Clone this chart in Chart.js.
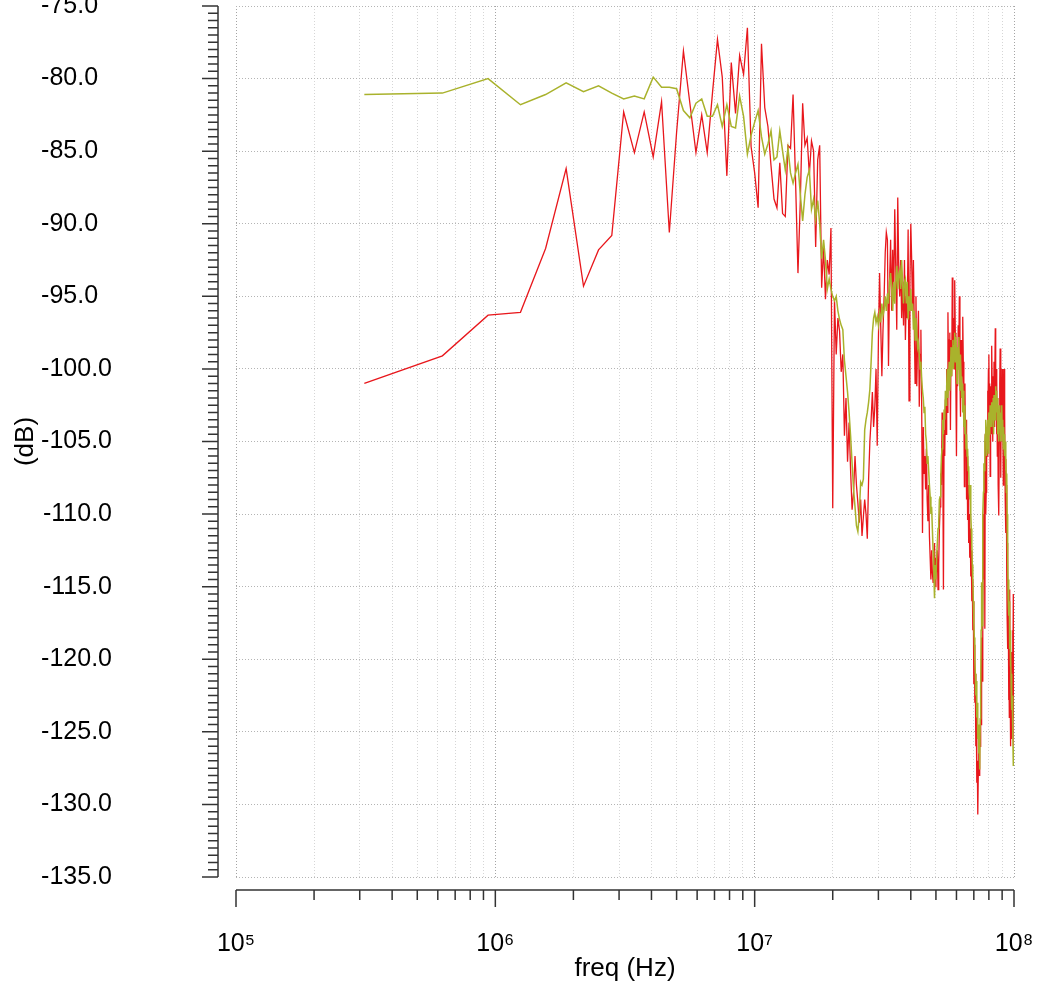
<!DOCTYPE html>
<html>
<head>
<meta charset="utf-8">
<title>freq response</title>
<script src="https://cdn.jsdelivr.net/npm/chart.js"></script>
<style>
  html, body { margin: 0; padding: 0; background: #fff; }
  #wrap { width: 1047px; height: 982px; position: relative; }
</style>
</head>
<body>
<div id="wrap"><canvas id="grafico"></canvas></div>
<script>
  // bins are 312.5 kHz apart, bin 1 .. 320 (up to 100 MHz)
  const freqStep = 312500;

  const redDb = [
    -101.0, -99.1, -96.3, -96.1, -91.7, -86.2, -94.3, -91.8, -90.8, -82.3,
    -85.1, -82.3, -85.4, -81.6, -90.6, -83.7, -78.1, -81.7, -85.1, -82.5,
    -85.1, -81.0, -77.3, -79.9, -86.7, -78.9, -82.4, -78.4, -79.7, -76.5,
    -84.7, -86.5, -88.9, -77.6, -82.0, -83.3, -86.0, -88.3, -88.9, -85.8,
    -89.3, -89.5, -84.6, -84.8, -81.1, -87.0, -93.4, -88.4, -81.7, -84.6,
    -84.1, -86.6, -84.3, -85.0, -91.6, -85.6, -84.6, -94.4, -91.6, -95.2,
    -92.5, -93.5, -90.3, -109.6, -95.2, -99.0, -96.5, -97.4, -100.2, -99.0,
    -104.6, -102.0, -106.4, -103.7, -107.0, -109.7, -108.5, -106.0, -108.0, -109.2,
    -110.6, -109.0, -111.5, -110.2, -109.0, -110.0, -111.7, -107.6, -105.0, -103.5,
    -101.6, -104.0, -102.6, -100.0, -105.3, -98.0, -93.4, -97.0, -100.5, -97.3,
    -95.0, -92.0, -90.6, -91.1, -99.8, -94.0, -91.1, -96.0, -91.8, -95.0,
    -89.0, -93.0, -97.3, -88.2, -93.0, -95.0, -92.5, -96.5, -94.0, -97.0,
    -92.5, -98.0, -95.0, -96.5, -90.4, -102.2, -94.0, -90.0, -92.5, -96.0,
    -92.5, -97.0, -101.0, -95.0, -101.2, -98.0, -96.0, -102.6, -99.0, -97.3,
    -102.6, -111.3, -104.0, -107.2, -106.0, -108.3, -105.5, -109.0, -110.5, -108.0,
    -111.5, -113.0, -114.5, -112.5, -114.0, -114.7, -113.0, -112.0, -115.0, -113.0,
    -114.0, -112.5, -115.2, -113.4, -111.0, -109.5, -107.2, -108.0, -103.0, -106.0,
    -115.2, -104.2, -106.0, -102.1, -104.5, -100.0, -103.0, -96.1, -101.0, -98.0,
    -97.5, -104.2, -98.0, -100.5, -93.7, -99.0, -96.5, -100.0, -93.9, -97.5,
    -101.0, -106.0, -99.5, -101.2, -97.0, -99.0, -95.0, -100.5, -103.3, -98.0,
    -102.0, -100.5, -96.4, -99.5, -102.0, -108.1, -101.0, -105.3, -103.5, -109.0,
    -106.0, -110.4, -108.0, -112.0, -110.0, -113.0, -111.0, -114.3, -112.5, -116.0,
    -114.5, -118.0, -116.0, -121.7, -119.0, -123.0, -121.0, -126.0, -124.0, -128.5,
    -127.0, -130.7, -128.0, -125.5, -128.0, -124.8, -126.0, -122.0, -124.5, -118.5,
    -121.5, -114.0, -117.5, -110.0, -114.5, -107.0, -117.9, -104.5, -110.0, -108.5,
    -104.0, -106.0, -101.5, -104.0, -100.0, -99.0, -103.5, -101.0, -107.4, -103.0,
    -101.2, -104.5, -98.4, -102.0, -105.0, -100.5, -103.5, -99.5, -104.0, -101.5,
    -97.2, -102.8, -100.0, -104.5, -100.7, -106.0, -102.0, -108.0, -103.0, -110.1,
    -104.0, -101.0, -98.6, -103.5, -107.5, -101.0, -104.5, -100.0, -105.0, -102.5,
    -108.0, -104.4, -100.0, -106.0, -103.0, -109.0, -106.2, -111.3, -108.0, -114.0,
    -117.0, -112.0, -119.3, -116.0, -122.8, -119.0, -124.0, -115.2, -121.0, -126.0,
    -123.0, -119.5, -125.5, -121.0, -124.0, -118.0, -123.0, -115.5, -120.0, -126.0
  ];

  const oliveDb = [
    -81.1, -81.0, -80.0, -81.8, -81.1, -80.3, -80.9, -80.5, -81.0, -81.4,
    -81.2, -81.4, -79.9, -80.6, -80.6, -80.7, -82.2, -82.7, -81.7, -81.4,
    -82.6, -82.6, -81.8, -83.3, -81.8, -83.3, -83.4, -81.2, -82.6, -85.2,
    -83.9, -83.0, -82.2, -84.0, -85.2, -84.5, -83.6, -85.6, -85.4, -83.6,
    -85.0, -86.3, -84.8, -86.5, -87.2, -86.5, -85.9, -88.0, -89.8, -88.0,
    -86.8, -86.3, -89.0, -88.3, -89.7, -88.4, -90.0, -92.4, -91.1, -92.5,
    -94.5, -93.8, -94.5, -95.0, -95.3, -95.0, -96.0, -96.6, -97.0, -97.3,
    -99.4, -100.5, -101.6, -103.0, -104.6, -106.5, -108.3, -109.5, -110.8, -111.2,
    -110.0, -107.8, -108.0, -107.6, -104.2, -103.5, -103.0, -102.3, -101.4, -99.5,
    -97.5, -96.5, -96.1, -96.8, -96.4, -97.0, -96.2, -96.8, -95.5, -96.3,
    -95.9, -95.0, -96.0, -94.8, -95.5, -94.0, -93.4, -94.5, -96.0, -94.0,
    -95.5, -94.0, -92.9, -94.5, -93.5, -93.2, -94.5, -92.5, -94.0, -95.5,
    -94.0, -93.8, -95.5, -94.0, -96.6, -95.0, -96.0, -94.5, -96.0, -95.5,
    -97.3, -96.0, -98.0, -96.5, -97.5, -98.5, -98.2, -99.0, -100.0, -99.5,
    -100.7, -101.5, -102.0, -103.0, -102.6, -104.5, -105.0, -106.5, -106.0, -107.0,
    -108.0, -108.8, -110.0, -109.5, -111.0, -112.5, -114.0, -115.8, -113.5, -114.5,
    -113.0, -112.0, -111.0, -110.5, -109.0, -108.8, -107.5, -106.0, -105.5, -103.5,
    -104.5, -102.8, -103.5, -101.5, -102.5, -101.2, -100.0, -102.0, -100.5, -99.5,
    -101.5, -100.0, -98.5, -100.5, -99.0, -98.0, -100.0, -98.4, -97.5, -99.5,
    -97.8, -99.0, -101.0, -98.5, -100.0, -97.8, -99.5, -101.5, -99.0, -100.5,
    -102.0, -101.0, -103.0, -101.5, -104.0, -102.5, -104.5, -103.5, -105.5, -104.5,
    -106.0, -105.5, -107.0, -106.7, -108.5, -109.0, -108.0, -110.0, -111.0, -112.0,
    -113.5, -114.5, -116.0, -117.5, -118.5, -120.0, -121.0, -122.5, -121.5, -124.0,
    -123.0, -125.5, -124.5, -126.5, -125.0, -127.6, -124.1, -122.0, -118.0, -114.7,
    -117.7, -112.0, -110.0, -108.5, -106.5, -107.0, -105.0, -104.5, -103.5, -104.0,
    -106.0, -104.0, -105.5, -103.5, -105.8, -103.0, -104.5, -103.5, -102.5, -104.0,
    -103.0, -102.3, -104.0, -102.5, -103.5, -102.0, -104.5, -101.8, -103.0, -102.0,
    -103.5, -101.2, -102.5, -101.5, -103.0, -102.0, -104.5, -102.8, -103.5, -105.0,
    -102.5, -104.0, -103.0, -105.0, -103.5, -104.5, -102.5, -104.0, -105.0, -103.5,
    -105.5, -104.0, -105.0, -104.5, -106.0, -105.0, -107.0, -106.0, -108.5, -107.2,
    -110.0, -112.2, -113.0, -115.9, -114.5, -117.0, -116.0, -119.3, -118.0, -120.5,
    -119.0, -122.0, -121.0, -123.5, -122.5, -124.5, -125.0, -127.3, -126.0, -127.2
  ];

  const yMin = -135;
  const yMax = -75;
  const decades = [1e5, 1e6, 1e7, 1e8];
  const decadeLabels = ['10\u2075', '10\u2076', '10\u2077', '10\u2078'];

  const freqs = redDb.map((_, i) => (i + 1) * freqStep);

  // 1..9 per decade, for grid and axis ticks
  const xGrid = [];
  decades.forEach((d, i) => {
    if (i === decades.length - 1) { xGrid.push(d); return; }
    for (let m = 1; m <= 9; m++) xGrid.push(m * d);
  });
  const isDecade = v => decades.some(d => Math.abs(v - d) < 1);

  Chart.defaults.font.family = "'Liberation Sans', Arial, sans-serif";
  Chart.defaults.font.size = 25;
  Chart.defaults.color = '#000';

  // axis lines sit a bit away from the plot box, like the original tool
  const ejesSueltos = {
    id: 'ejesSueltos',
    afterDraw(chart) {
      const { ctx, chartArea, scales: { x, y } } = chart;
      ctx.save();
      ctx.strokeStyle = '#333';
      ctx.lineWidth = 1.5;
      ctx.beginPath();
      const ax = chartArea.left - 18;
      ctx.moveTo(ax, y.getPixelForValue(yMax));
      ctx.lineTo(ax, y.getPixelForValue(yMin));
      for (let k = 0; k <= (yMax - yMin) * 2; k++) {
        const v = yMin + k * 0.5;
        const py = y.getPixelForValue(v);
        const len = k % 10 === 0 ? 16 : 10;
        ctx.moveTo(ax - len, py);
        ctx.lineTo(ax, py);
      }
      const ay = chartArea.bottom + 13;
      ctx.moveTo(x.getPixelForValue(decades[0]), ay);
      ctx.lineTo(x.getPixelForValue(decades[decades.length - 1]), ay);
      xGrid.forEach(f => {
        const px = x.getPixelForValue(f);
        ctx.moveTo(px, ay);
        ctx.lineTo(px, ay + (isDecade(f) ? 17 : 10));
      });
      ctx.stroke();
      ctx.restore();
    }
  };

  new Chart(document.getElementById('grafico'), {
    type: 'line',
    data: {
      labels: freqs,
      datasets: [
        {
          label: 'olive',
          data: oliveDb,
          borderColor: '#a9b22c',
          borderWidth: 1.5,
        },
        {
          label: 'red',
          data: redDb,
          borderColor: '#e8171c',
          borderWidth: 1.3,
        }
      ]
    },
    options: {
      responsive: true,
      maintainAspectRatio: false,
      animation: false,
      events: [],
      layout: { padding: { top: 6, right: 33, left: 0, bottom: 0 } },
      elements: {
        point: { radius: 0 },
        line: { tension: 0, fill: false }
      },
      plugins: {
        legend: { display: false },
        tooltip: { enabled: false }
      },
      scales: {
        x: {
          type: 'logarithmic',
          min: decades[0],
          max: decades[decades.length - 1],
          afterBuildTicks: scale => {
            scale.ticks = xGrid.map(v => ({ value: v }));
          },
          afterFit: scale => {
            scale.height = 105;
            scale.paddingLeft = 0;
            scale.paddingRight = 0;
          },
          ticks: {
            autoSkip: false,
            maxRotation: 0,
            minRotation: 0,
            padding: 52,
            callback: value => {
              const i = decades.findIndex(d => Math.abs(value - d) < 1);
              return i >= 0 ? decadeLabels[i] : '';
            }
          },
          grid: {
            drawTicks: false,
            lineWidth: 1,
            color: ctx => (ctx.tick && isDecade(ctx.tick.value)) ? '#a4a4a4' : '#d6d6d6'
          },
          border: { display: false, dash: [1, 2] },
          title: {
            display: true,
            text: 'freq (Hz)',
            font: { size: 26, lineHeight: 1 },
            padding: 0
          }
        },
        y: {
          min: yMin,
          max: yMax,
          afterFit: scale => {
            scale.width = 236;
            scale.paddingTop = 0;
            scale.paddingBottom = 0;
          },
          ticks: {
            stepSize: 5,
            padding: 124,
            // figure spaces keep the labels flush left like the original
            callback: value => value.toFixed(1).padEnd(6, '\u2007')
          },
          grid: {
            drawTicks: false,
            lineWidth: 1,
            color: '#b4b4b4'
          },
          border: { display: false, dash: [1, 2] },
          title: {
            display: true,
            text: '(dB)',
            font: { size: 26, lineHeight: 1 },
            padding: { top: 13, bottom: 0 }
          }
        }
      }
    },
    plugins: [ejesSueltos]
  });
</script>
</body>
</html>
